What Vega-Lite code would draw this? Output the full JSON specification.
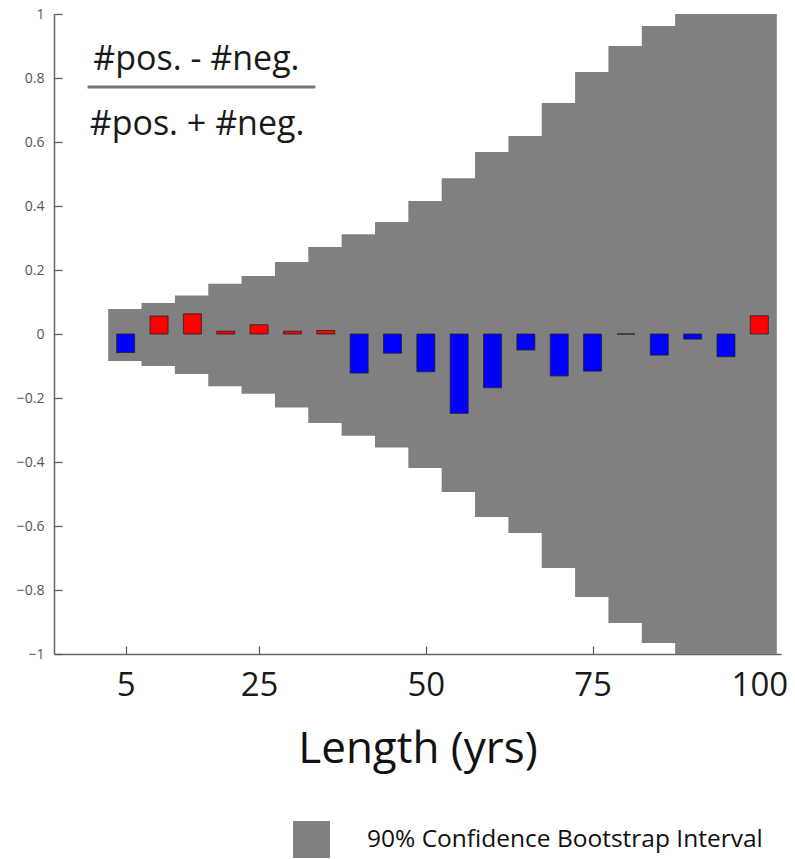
{
  "$schema": "https://vega.github.io/schema/vega-lite/v6.json",
  "autosize": {"type": "none"},
  "padding": {"left": 54, "top": 14, "right": 14, "bottom": 205},
  "width": 727,
  "height": 640,
  "config": {
    "view": {"stroke": null},
    "font": "Open Sans"
  },
  "data": {
    "values": [
      {"len": 5, "value": -0.058, "lo": -0.084, "hi": 0.078},
      {"len": 10, "value": 0.056, "lo": -0.1, "hi": 0.097},
      {"len": 15, "value": 0.063, "lo": -0.125, "hi": 0.12},
      {"len": 20, "value": 0.009, "lo": -0.163, "hi": 0.157},
      {"len": 25, "value": 0.029, "lo": -0.187, "hi": 0.181},
      {"len": 30, "value": 0.009, "lo": -0.23, "hi": 0.225},
      {"len": 35, "value": 0.011, "lo": -0.278, "hi": 0.272},
      {"len": 40, "value": -0.122, "lo": -0.318, "hi": 0.312},
      {"len": 45, "value": -0.06, "lo": -0.355, "hi": 0.35},
      {"len": 50, "value": -0.118, "lo": -0.419, "hi": 0.416},
      {"len": 55, "value": -0.248, "lo": -0.494, "hi": 0.487},
      {"len": 60, "value": -0.168, "lo": -0.572, "hi": 0.569},
      {"len": 65, "value": -0.05, "lo": -0.622, "hi": 0.619},
      {"len": 70, "value": -0.131, "lo": -0.731, "hi": 0.722},
      {"len": 75, "value": -0.116, "lo": -0.822, "hi": 0.819},
      {"len": 80, "value": 0, "lo": -0.903, "hi": 0.9},
      {"len": 85, "value": -0.066, "lo": -0.966, "hi": 0.9625},
      {"len": 90, "value": -0.016, "lo": -1, "hi": 1},
      {"len": 95, "value": -0.071, "lo": -1, "hi": 1},
      {"len": 100, "value": 0.057, "lo": -1, "hi": 1}
    ]
  },
  "layer": [
    {
      "mark": {"type": "bar", "size": 35, "strokeWidth": 0},
      "encoding": {
        "x": {
          "field": "len",
          "type": "quantitative",
          "scale": {"domain": [-5, 102.5], "nice": false, "zero": false},
          "axis": {
            "values": [5, 25, 50, 75, 100],
            "grid": false,
            "tickSize": -8,
            "tickColor": "#555",
            "tickWidth": 1.2,
            "domainColor": "#666",
            "domainWidth": 1.5,
            "labelFont": "Open Sans",
            "labelFontSize": 33,
            "labelColor": "#1a1a1a",
            "labelPadding": 23.5,
            "labelFlush": false,
            "title": "Length (yrs)",
            "titleFont": "Open Sans",
            "titleFontSize": 44,
            "titleFontWeight": "normal",
            "titleColor": "#111",
            "titleBaseline": "alphabetic",
            "titleY": 108
          }
        },
        "y": {
          "field": "lo",
          "type": "quantitative",
          "scale": {"domain": [-1, 1], "nice": false},
          "axis": {
            "values": [-1, -0.8, -0.6, -0.4, -0.2, 0, 0.2, 0.4, 0.6, 0.8, 1],
            "format": "~g",
            "grid": false,
            "tickSize": -8,
            "tickColor": "#555",
            "tickWidth": 1.2,
            "domainColor": "#666",
            "domainWidth": 1.5,
            "labelFont": "Open Sans",
            "labelFontSize": 14,
            "labelColor": "#555",
            "labelPadding": 18,
            "title": null
          }
        },
        "y2": {"field": "hi"},
        "color": {
          "datum": "90% Confidence Bootstrap Interval",
          "type": "nominal",
          "scale": {"range": ["#808080"]},
          "legend": {
            "title": null,
            "orient": "none",
            "legendX": 239,
            "legendY": 807,
            "symbolType": "square",
            "symbolSize": 1369,
            "symbolStrokeWidth": 0,
            "labelFont": "Open Sans",
            "labelFontSize": 24.5,
            "labelColor": "#111",
            "labelOffset": 37,
            "labelLimit": 600
          }
        }
      }
    },
    {
      "mark": {"type": "bar", "size": 18, "stroke": "#222", "strokeWidth": 0.8},
      "encoding": {
        "x": {"field": "len", "type": "quantitative"},
        "y": {"field": "value", "type": "quantitative"},
        "y2": {"datum": 0},
        "fill": {
          "condition": {"test": "datum.value > 0", "value": "#ff0000"},
          "value": "#0000ff"
        }
      }
    },
    {
      "data": {"values": [{"label": "#pos. - #neg."}]},
      "mark": {"type": "text", "font": "Open Sans", "fontSize": 34, "color": "#1a1a1a", "align": "center", "baseline": "alphabetic"},
      "encoding": {
        "x": {"datum": 15.6, "type": "quantitative"},
        "y": {"datum": 0.825, "type": "quantitative"},
        "text": {"field": "label", "type": "nominal"}
      }
    },
    {
      "data": {"values": [{"label": "#pos. + #neg."}]},
      "mark": {"type": "text", "font": "Open Sans", "fontSize": 34, "color": "#1a1a1a", "align": "center", "baseline": "alphabetic"},
      "encoding": {
        "x": {"datum": 15.7, "type": "quantitative"},
        "y": {"datum": 0.622, "type": "quantitative"},
        "text": {"field": "label", "type": "nominal"}
      }
    },
    {
      "data": {"values": [{"label": "fraction"}]},
      "mark": {"type": "rule", "color": "#777", "strokeWidth": 3},
      "encoding": {
        "x": {"datum": -0.71, "type": "quantitative"},
        "x2": {"datum": 33.44},
        "y": {"datum": 0.772, "type": "quantitative"}
      }
    }
  ]
}
